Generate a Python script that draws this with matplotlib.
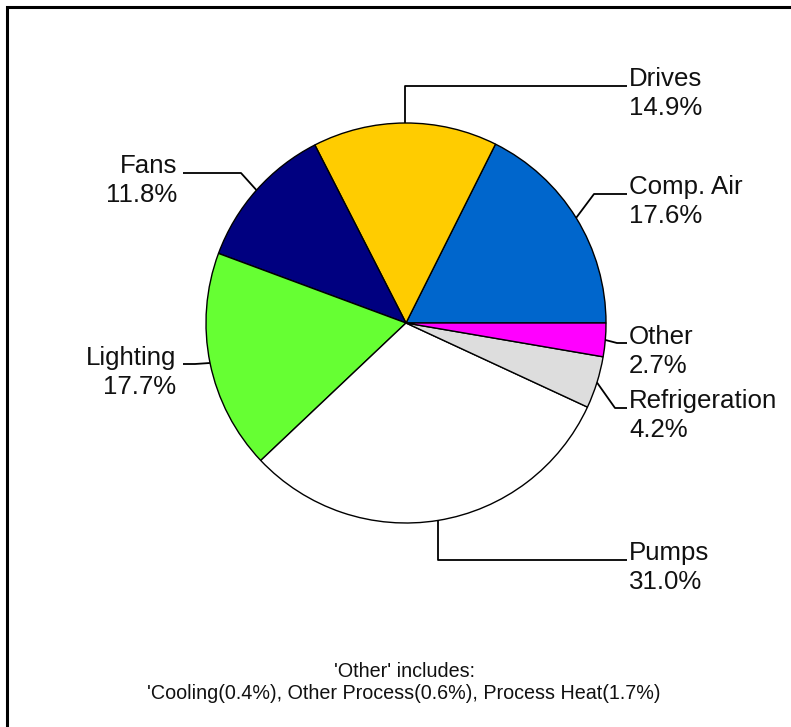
import matplotlib
matplotlib.use('Agg')
import matplotlib.pyplot as plt
import numpy as np

# ---- data ----
categories = ['Comp. Air', 'Drives', 'Fans', 'Lighting', 'Pumps', 'Refrigeration', 'Other']
shares = [17.6, 14.9, 11.8, 17.7, 31.0, 4.2, 2.7]
colors = ['#0066CC', '#FFCC00', '#000080', '#66FF33', '#FFFFFF', '#DDDDDD', '#FF00FF']
footnote = ["'Other' includes:",
            "'Cooling(0.4%), Other Process(0.6%), Process Heat(1.7%)"]

W, H = 791, 727
fig = plt.figure(figsize=(W / 100, H / 100), dpi=100)
ax = fig.add_axes([0, 0, 1, 1])

CX, CY, R = 406, 323, 200


def fy(y):
    return H - y


ax.pie(shares, colors=colors, startangle=0, counterclock=True, radius=R,
       center=(CX, fy(CY)),
       wedgeprops=dict(edgecolor='black', linewidth=1.0), frame=False)
ax.set_xlim(0, W)
ax.set_ylim(0, H)
ax.axis('off')

# label layout (pixel coords, y downward): elbow, line end, text x, alignment, baseline
layout = {
    'Comp. Air':     ((594, 194), (627, 194), 629, 'left', 194),
    'Drives':        ((None, 86), (627, 86), 629, 'left', 86),
    'Fans':          ((241, 173), (183, 173), 177, 'right', 173),
    'Lighting':      ((195, 364), (183, 364), 176, 'right', 365),
    'Pumps':         ((None, 560), (627, 560), 629, 'left', 560),
    'Refrigeration': ((615, 408), (627, 408), 629, 'left', 408),
    'Other':         ((617, 343), (627, 343), 629, 'left', 344),
}

total = sum(shares)
cum = np.cumsum([0] + shares)
font = ['Liberation Sans', 'DejaVu Sans']
for i, (cat, val) in enumerate(zip(categories, shares)):
    mid = np.deg2rad((cum[i] + cum[i + 1]) / 2 / total * 360)
    sx = CX + R * np.cos(mid)
    sy = CY - R * np.sin(mid)
    (ex, ey), (lx, ly), tx, ha, base = layout[cat]
    if ex is None:
        ex = sx
    ax.plot([sx, ex, lx], [fy(sy), fy(ey), fy(ly)], color='black', lw=1.3,
            solid_capstyle='butt', zorder=5)
    ax.text(tx, fy(base), cat, ha=ha, va='baseline', fontsize=18.6,
            family=font, color='#111111')
    ax.text(tx, fy(base + 29), f'{val:.1f}%', ha=ha, va='baseline',
            fontsize=18.6, family=font, color='#111111')

# footnote
ax.text(404, fy(677), footnote[0], ha='center', va='baseline', fontsize=14.2,
        family=font, color='#111111')
ax.text(404, fy(699), footnote[1], ha='center', va='baseline', fontsize=14.2,
        family=font, color='#111111')

# partial border (left and top)
ax.plot([7, 7, W], [0, fy(7), fy(7)], color='black', lw=2.2,
        solid_joinstyle='miter', clip_on=False)

fig.savefig('out.png', dpi=100)
